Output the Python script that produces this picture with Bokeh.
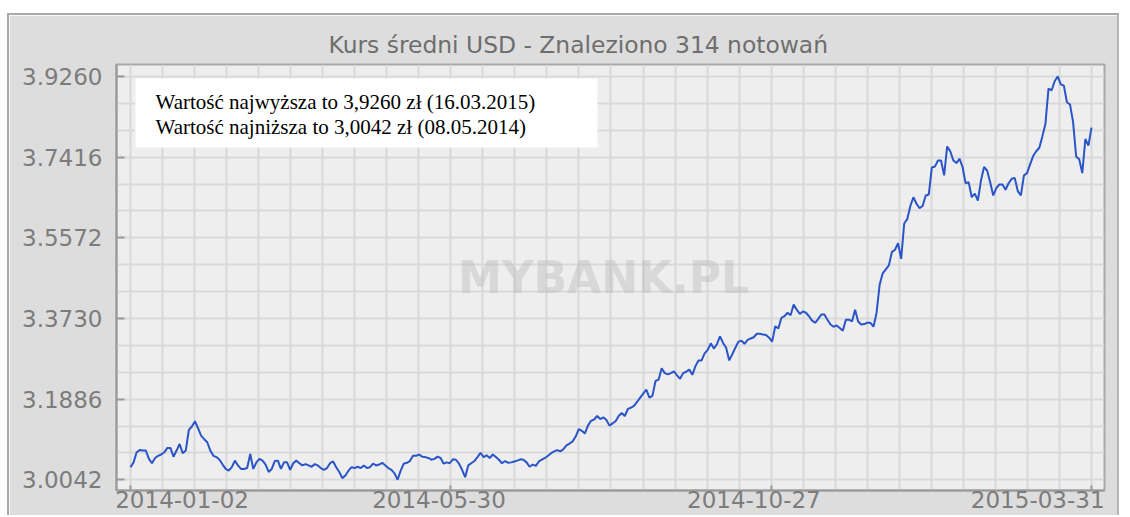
from bokeh.plotting import figure
from bokeh.models import FixedTicker, PrintfTickFormatter, Range1d, BoxAnnotation, Label, ColumnDataSource
from bokeh.embed import file_html
from bokeh.resources import INLINE

# ---------------- data ----------------
title_text = "Kurs średni USD - Znaleziono 314 notowań"
x_tick_labels = ["2014-01-02", "2014-05-30", "2014-10-27", "2015-03-31"]
y_tick_values = [3.0042, 3.1886, 3.3730, 3.5572, 3.7416, 3.9260]
info_lines = ["Wartość najwyższa to 3,9260 zł (16.03.2015)",
              "Wartość najniższa to 3,0042 zł (08.05.2014)"]
watermark_text = "MYBANK.PL"

usd_rate = [
    3.033, 3.044, 3.067, 3.072, 3.071, 3.071, 3.052, 3.042, 3.054, 3.059,
    3.062, 3.067, 3.077, 3.077, 3.057, 3.071, 3.086, 3.065, 3.071, 3.118,
    3.126, 3.138, 3.122, 3.105, 3.097, 3.090, 3.071, 3.059, 3.056, 3.050,
    3.039, 3.029, 3.025, 3.033, 3.048, 3.037, 3.029, 3.029, 3.031, 3.063,
    3.029, 3.044, 3.052, 3.048, 3.039, 3.022, 3.029, 3.047, 3.048, 3.029,
    3.044, 3.044, 3.027, 3.042, 3.048, 3.042, 3.037, 3.040, 3.037, 3.034,
    3.040, 3.037, 3.031, 3.027, 3.031, 3.042, 3.046, 3.033, 3.022, 3.008,
    3.014, 3.025, 3.033, 3.031, 3.034, 3.031, 3.037, 3.031, 3.033, 3.041,
    3.037, 3.039, 3.043, 3.037, 3.031, 3.027, 3.019, 3.0042, 3.025, 3.041,
    3.043, 3.047, 3.059, 3.059, 3.062, 3.057, 3.056, 3.054, 3.050, 3.052,
    3.057, 3.054, 3.041, 3.044, 3.042, 3.051, 3.050, 3.041, 3.027, 3.010,
    3.037, 3.042, 3.047, 3.056, 3.066, 3.056, 3.060, 3.054, 3.062, 3.056,
    3.050, 3.042, 3.047, 3.043, 3.044, 3.046, 3.048, 3.051, 3.050, 3.044,
    3.034, 3.039, 3.036, 3.046, 3.050, 3.054, 3.059, 3.065, 3.069, 3.072,
    3.069, 3.074, 3.083, 3.087, 3.092, 3.103, 3.120, 3.116, 3.110, 3.128,
    3.139, 3.142, 3.150, 3.143, 3.147, 3.141, 3.128, 3.133, 3.138, 3.150,
    3.157, 3.150, 3.166, 3.169, 3.173, 3.182, 3.192, 3.201, 3.210, 3.192,
    3.196, 3.230, 3.233, 3.259, 3.248, 3.245, 3.248, 3.252, 3.243, 3.235,
    3.248, 3.251, 3.256, 3.244, 3.264, 3.277, 3.277, 3.293, 3.301, 3.316,
    3.304, 3.314, 3.332, 3.317, 3.306, 3.277, 3.291, 3.306, 3.320, 3.322,
    3.315, 3.324, 3.327, 3.330, 3.338, 3.338, 3.336, 3.335, 3.329, 3.320,
    3.355, 3.350, 3.374, 3.378, 3.386, 3.380, 3.405, 3.393, 3.383, 3.389,
    3.386, 3.378, 3.368, 3.363, 3.372, 3.382, 3.382, 3.370, 3.359, 3.354,
    3.357, 3.351, 3.345, 3.370, 3.370, 3.366, 3.393, 3.366, 3.359, 3.360,
    3.363, 3.363, 3.354, 3.386, 3.450, 3.476, 3.485, 3.494, 3.525, 3.530,
    3.545, 3.509, 3.590, 3.600, 3.630, 3.650, 3.635, 3.625, 3.630, 3.654,
    3.656, 3.718, 3.720, 3.734, 3.734, 3.700, 3.766, 3.755, 3.734, 3.728,
    3.738, 3.719, 3.682, 3.684, 3.650, 3.658, 3.642, 3.688, 3.719, 3.711,
    3.684, 3.654, 3.671, 3.679, 3.679, 3.667, 3.682, 3.692, 3.694, 3.664,
    3.654, 3.700, 3.705, 3.725, 3.744, 3.755, 3.763, 3.789, 3.818, 3.898,
    3.894, 3.915, 3.926, 3.908, 3.905, 3.867, 3.862, 3.822, 3.743, 3.737,
    3.705, 3.783, 3.768, 3.809,
]

# x position: session index scaled so the 4 labelled ticks fall on 0,10,20,30
n = len(usd_rate)
x_pos = [i * 30 / (n - 1) for i in range(n)]
src = ColumnDataSource(dict(x=x_pos, y=usd_rate))

PANEL = "#dddddd"
LABEL_GREY = "#7c7c7c"

# canvas 1112x502 inside a 2px border and a white page margin (7/13 px)
p = figure(width=1112, height=502, output_backend="svg", toolbar_location=None,
           x_range=Range1d(-0.437, 30.406), y_range=Range1d(2.9797, 3.9533),
           min_border_left=107, min_border_right=17, min_border_top=49, min_border_bottom=27,
           background_fill_color="#eeeeee", border_fill_color=PANEL,
           outline_line_color="#a8a8a8", outline_line_width=2)
p.margin = (13, 7, 0, 7)
p.styles = {"border-left": "2px solid #a9a9a9", "border-top": "2px solid #a9a9a9",
            "border-right": "2px solid #b5b5b5"}

# title
p.title.text = title_text
p.title.align = "left"
p.title.offset = 212
p.title.standoff = 11
p.title.text_font = "DejaVu Sans"
p.title.text_font_style = "normal"
p.title.text_font_size = "23.4px"
p.title.text_color = "#6e6e6e"

# grids
step = (y_tick_values[-1] - y_tick_values[0]) / 15
p.xgrid.ticker = FixedTicker(ticks=list(range(31)))
p.ygrid.ticker = FixedTicker(ticks=[y_tick_values[0] + k * step for k in range(16)])
p.grid.grid_line_color = "#d9d9d9"
p.grid.grid_line_width = 2

# y axis
p.yaxis.ticker = FixedTicker(ticks=y_tick_values)
p.yaxis.formatter = PrintfTickFormatter(format="%.4f")
p.yaxis.major_tick_in = 8
p.yaxis.major_tick_out = 0
p.yaxis.minor_tick_in = 0
p.yaxis.minor_tick_out = 0
p.yaxis.major_label_standoff = 14
p.yaxis.major_label_text_font = "DejaVu Sans"
p.yaxis.major_label_text_font_size = "23px"
p.yaxis.major_label_text_color = LABEL_GREY

# x axis: labels sit to the left of their tick marks as in the source chart,
# so labels are major ticks (length 0) and the tick marks are minor ticks
label_pos = [1.61, 9.63, 19.46, 28.32]
p.xaxis.ticker = FixedTicker(ticks=label_pos, minor_ticks=[0, 10, 20, 30])
p.xaxis.major_label_overrides = {pos: lab for pos, lab in zip(label_pos, x_tick_labels)}
p.xaxis.major_tick_in = 0
p.xaxis.major_tick_out = 0
p.xaxis.minor_tick_in = 5
p.xaxis.minor_tick_out = 0
p.xaxis.minor_tick_line_color = "#999999"
p.xaxis.minor_tick_line_width = 2
p.xaxis.major_label_standoff = 0
p.xaxis.major_label_text_font = "DejaVu Sans"
p.xaxis.major_label_text_font_size = "23px"
p.xaxis.major_label_text_color = LABEL_GREY

for ax in (p.xaxis, p.yaxis):
    ax.axis_line_color = "#999999"
    ax.axis_line_width = 2
    ax.major_tick_line_color = "#999999"
    ax.major_tick_line_width = 2

# watermark (frame-relative screen units)
p.add_layout(Label(x=487, y=213, x_units="screen", y_units="screen", text=watermark_text,
                   text_font="DejaVu Sans", text_font_style="bold", text_font_size="44px",
                   text_color="#b4b4b4", text_alpha=0.4, text_align="center",
                   text_baseline="middle", level="underlay"))

# series
p.line("x", "y", source=src, line_color="#2a55c8", line_width=2)

# info box
p.add_layout(BoxAnnotation(left=124, right=586, top=61, bottom=130,
                           left_units="canvas", right_units="canvas",
                           bottom_units="canvas", top_units="canvas",
                           fill_color="white", fill_alpha=1, line_alpha=0))
for txt, yy in zip(info_lines, [84, 109]):
    p.add_layout(Label(x=144, y=yy, x_units="canvas", y_units="canvas", text=txt,
                       text_font="Liberation Serif", text_font_size="21px",
                       text_color="black", text_baseline="middle"))

open("out.html", "w").write(file_html(p, INLINE))
